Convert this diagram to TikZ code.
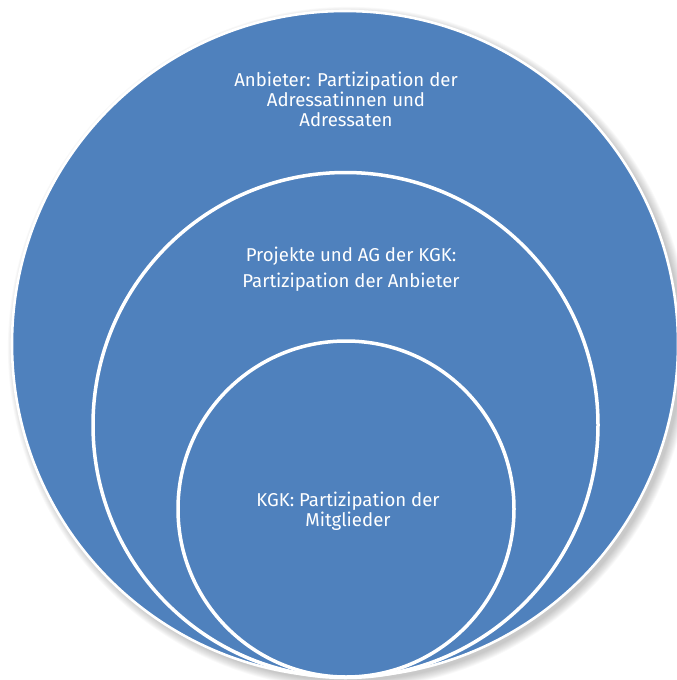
\documentclass[tikz,border=0pt]{standalone}
\usepackage{fontspec}
\setmainfont{Fira Sans}
\definecolor{ringblue}{HTML}{4F81BD}
\begin{document}
\begin{tikzpicture}[x=1pt,y=-1pt,
  ring/.style={circle, fill=ringblue, draw=white, line width=3.5pt, inner sep=0pt},
  lbl/.style={text=white, align=center, font=\fontsize{18.6}{20}\selectfont, inner sep=0pt}]
\useasboundingbox (0,0) rectangle (677,680);
% shadow
\foreach \i in {0,...,9}{
  \fill[black, opacity=0.025] (349,348) circle (333+\i*0.9);
}
\node[ring, line width=2.6pt, minimum size=666pt] (outer) at (345,344) {};
\node[ring, minimum size=505pt] (middle) at (345.5,425) {};
\node[ring, minimum size=336pt] (inner) at (346,509) {};
\node[lbl] (t1) at (346,99) {Anbieter: Partizipation der\\Adressatinnen und\\Adressaten};
\node[lbl, font=\fontsize{18.6}{26}\selectfont] (t2) at (351,269) {Projekte und AG der KGK:\\Partizipation der Anbieter};
\node[lbl] (t3) at (348,511) {KGK: Partizipation der\\Mitglieder};
\end{tikzpicture}
\end{document}
